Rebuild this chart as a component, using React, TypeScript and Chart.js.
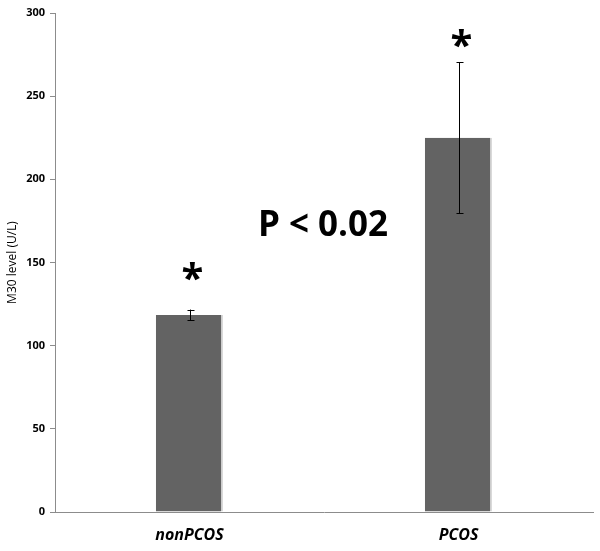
import React, { useEffect, useRef } from "react";
import { Chart, registerables } from "chart.js";

Chart.register(...registerables);

const categories = ["nonPCOS", "PCOS"];
const meanValues = [118.5, 225];
const errorValues = [3.2, 45.5];
const asteriskValues = [144, 284];
const yTicks = [0, 50, 100, 150, 200, 250, 300];
const pText = "P < 0.02";
const pTextValue = 172.5;

const overlayPlugin = {
  id: "overlay",
  afterDatasetsDraw(chart: any) {
    const ctx = chart.ctx;
    const xs = chart.scales.x;
    const ys = chart.scales.y;
    ctx.save();
    ctx.strokeStyle = "#000";
    ctx.lineWidth = 1;
    meanValues.forEach((v, i) => {
      const x = Math.round(xs.getPixelForValue(i)) + 0.5;
      const top = ys.getPixelForValue(v + errorValues[i]);
      const bot = ys.getPixelForValue(v - errorValues[i]);
      ctx.beginPath();
      ctx.moveTo(x, top);
      ctx.lineTo(x, bot);
      ctx.moveTo(x - 3, Math.round(top) + 0.5);
      ctx.lineTo(x + 4, Math.round(top) + 0.5);
      ctx.moveTo(x - 3, Math.round(bot) + 0.5);
      ctx.lineTo(x + 4, Math.round(bot) + 0.5);
      ctx.stroke();
    });
    ctx.fillStyle = "#000";
    ctx.textAlign = "center";
    ctx.textBaseline = "middle";
    ctx.font = "bold 40px 'Open Sans', sans-serif";
    asteriskValues.forEach((v, i) => {
      const x = xs.getPixelForValue(i) + 3;
      const y = ys.getPixelForValue(v) + 8;
      ctx.fillText("*", x, y);
    });
    ctx.font = "bold 35px 'Open Sans', sans-serif";
    ctx.fillText(pText, xs.getPixelForValue(0.5) - 1, ys.getPixelForValue(pTextValue) + 1);
    ctx.restore();
  },
};

export default function App() {
  const ref = useRef<HTMLCanvasElement | null>(null);
  useEffect(() => {
    document.body.style.margin = "0";
    const chart = new Chart(ref.current!, {
      type: "bar",
      data: {
        labels: categories,
        datasets: [
          {
            data: meanValues,
            backgroundColor: "#636363",
            borderColor: "#d9d9d9",
            borderWidth: { left: 0, top: 0, bottom: 0, right: 2 } as any,
            borderSkipped: false,
            barPercentage: 0.25,
            categoryPercentage: 1,
          },
        ],
      },
      options: {
        animation: false,
        responsive: false,
        maintainAspectRatio: false,
        layout: { padding: { top: 13, right: 7, left: 0, bottom: 0 } },
        plugins: { legend: { display: false }, tooltip: { enabled: false } },
        scales: {
          x: {
            grid: { display: false },
            border: { display: true, color: "#8c8c8c", width: 1 },
            ticks: {
              color: "#000",
              font: { family: "'Open Sans', sans-serif", size: 16, style: "italic", weight: "bold" },
              padding: 6,
            },
            afterFit: (s: any) => {
              s.height = 39;
            },
          },
          y: {
            min: 0,
            max: 300,
            afterBuildTicks: (s: any) => {
              s.ticks = yTicks.map((v) => ({ value: v }));
            },
            grid: { drawOnChartArea: false, drawTicks: true, tickLength: 5, color: "#8c8c8c" },
            border: { display: true, color: "#8c8c8c", width: 1 },
            ticks: {
              color: "#000",
              font: { family: "'Open Sans', sans-serif", size: 11, weight: "bold" },
              padding: 5,
            },
            title: {
              display: true,
              text: "M30 level (U/L)",
              color: "#000",
              font: { family: "'Open Sans', sans-serif", size: 12 },
              padding: { top: 5, bottom: 4 },
            },
            afterFit: (s: any) => {
              s.width = 55;
            },
          },
        },
      },
      plugins: [overlayPlugin],
    });
    return () => chart.destroy();
  }, []);
  return (
    <div style={{ width: 600, height: 551, background: "#fff" }}>
      <canvas ref={ref} width={600} height={551} style={{ width: 600, height: 551, display: "block" }} />
    </div>
  );
}
